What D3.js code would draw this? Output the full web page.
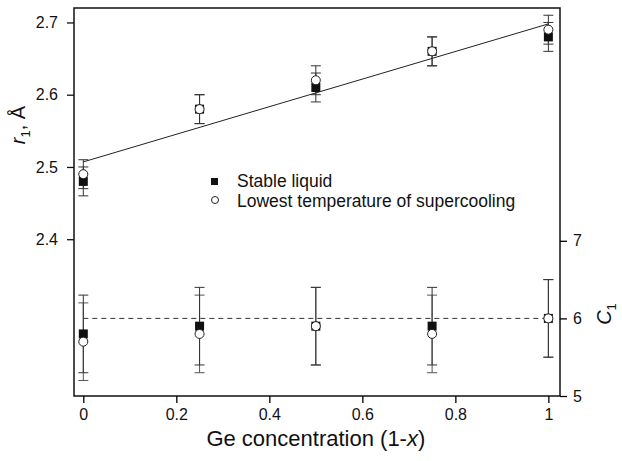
<!DOCTYPE html>
<html>
<head>
<meta charset="utf-8">
<script src="https://cdn.jsdelivr.net/npm/d3@7"></script>
<style>
body { margin: 0; background: #fff; }
svg text { font-family: "Liberation Sans", Arial, sans-serif; fill: #111; }
</style>
</head>
<body>
<div class="cont"></div>
<script>
var w = 622,
h = 461;

// data
var conc = [0, 0.25, 0.5, 0.75, 1];
var r1Stable = [2.48, 2.58, 2.61, 2.66, 2.68];
var r1Low = [2.49, 2.58, 2.62, 2.66, 2.69];
var r1Err = [0.02, 0.02, 0.02, 0.02, 0.02];
var c1Stable = [5.8, 5.9, 5.9, 5.9, 6.0];
var c1Low = [5.7, 5.8, 5.9, 5.8, 6.0];
var c1Err = [0.5, 0.5, 0.5, 0.5, 0.5];
var fitLine = [[0, 2.507], [1, 2.698]];
var c1Mean = 6.0;
var xTicks = [0, 0.2, 0.4, 0.6, 0.8, 1];
var yTicks = [2.4, 2.5, 2.6, 2.7];
var y2Ticks = [5, 6, 7];
var legendNames = ["Stable liquid", "Lowest temperature of supercooling"];

var m = {left: 74, right: 560, top: 8, bottom: 396};

var x = d3.scaleLinear().domain([-0.02, 1.025]).range([m.left, m.right]);
var y = d3.scaleLinear().domain([2.183, 2.72]).range([m.bottom, m.top]);
var y2 = d3.scaleLinear().domain([5, 10]).range([m.bottom, m.top]);

var svg = d3.select(".cont").append("svg").
attr("width", w).
attr("height", h);

// frame
svg.append("rect").
attr("x", m.left).
attr("y", m.top).
attr("width", m.right - m.left).
attr("height", m.bottom - m.top).
attr("fill", "none").
attr("stroke", "#111").
attr("stroke-width", 1.5);

// bottom axis
var xAxis = svg.append("g").attr("transform", "translate(0," + m.bottom + ")");
xAxis.call(d3.axisBottom(x).tickValues(d3.range(0, 1.01, 0.1)).tickSize(4).tickFormat(""));
xAxis.call(d3.axisBottom(x).tickValues(xTicks).tickSize(7).tickPadding(6).tickFormat(d3.format("")));

// left axis
var yAxis = svg.append("g").attr("transform", "translate(" + m.left + ",0)");
yAxis.call(d3.axisLeft(y).tickValues(d3.range(2.2, 2.71, 0.05)).tickSize(4).tickFormat(""));
yAxis.call(d3.axisLeft(y).tickValues(yTicks).tickSize(7).tickPadding(9).tickFormat(d3.format(".1f")));
yAxis.selectAll(".tick line").attr("stroke", function (d) {return d < 2.39 ? "#aaa" : "#111";});

// right axis
var y2Axis = svg.append("g").attr("transform", "translate(" + m.right + ",0)");
y2Axis.call(d3.axisRight(y2).tickValues([5, 5.5, 6, 6.5, 7]).tickSize(4).tickFormat(""));
y2Axis.call(d3.axisRight(y2).tickValues(y2Ticks).tickSize(7).tickPadding(6).tickFormat(d3.format("")));

svg.selectAll(".domain").remove();
svg.selectAll(".tick line").attr("stroke-width", 1.3);
svg.selectAll(".tick text").style("font-size", "16px");

// fitted line and mean line
var line = d3.line().x(function (d) {return x(d[0]);}).y(function (d) {return y(d[1]);});
svg.append("path").
attr("d", line(fitLine)).
attr("fill", "none").
attr("stroke", "#222").
attr("stroke-width", 1);

svg.append("line").
attr("x1", x(0)).
attr("x2", x(1)).
attr("y1", y2(c1Mean)).
attr("y2", y2(c1Mean)).
attr("stroke", "#333").
attr("stroke-width", 1).
attr("stroke-dasharray", "5,4");

function errBars(vals, errs, sc, col) {
  var g = svg.append("g").attr("stroke", col).attr("stroke-width", 1);
  conc.forEach(function (c, i) {
    var cx = x(c),
    hi = sc(vals[i] + errs[i]),
    lo = sc(vals[i] - errs[i]);
    g.append("line").attr("x1", cx).attr("x2", cx).attr("y1", hi).attr("y2", lo);
    g.append("line").attr("x1", cx - 5).attr("x2", cx + 5).attr("y1", hi).attr("y2", hi);
    g.append("line").attr("x1", cx - 5).attr("x2", cx + 5).attr("y1", lo).attr("y2", lo);
  });
}

function squares(vals, sc) {
  svg.append("g").selectAll("rect").
  data(vals).
  enter().append("rect").
  attr("x", function (d, i) {return x(conc[i]) - 4.5;}).
  attr("y", function (d) {return sc(d) - 4.5;}).
  attr("width", 9).
  attr("height", 9).
  attr("fill", "#111");
}

function circles(vals, sc) {
  svg.append("g").selectAll("circle").
  data(vals).
  enter().append("circle").
  attr("cx", function (d, i) {return x(conc[i]);}).
  attr("cy", function (d) {return sc(d);}).
  attr("r", 4.5).
  attr("fill", "#fff").
  attr("stroke", "#222").
  attr("stroke-width", 1);
}

errBars(r1Low, r1Err, y, "#333");
errBars(r1Stable, r1Err, y, "#333");
errBars(c1Low, c1Err, y2, "#555");
errBars(c1Stable, c1Err, y2, "#333");
squares(r1Stable, y);
squares(c1Stable, y2);
circles(r1Low, y);
circles(c1Low, y2);

// legend
var lg = svg.append("g");
lg.append("rect").attr("x", 211).attr("y", 178).attr("width", 7).attr("height", 7).attr("fill", "#111");
lg.append("circle").attr("cx", 215).attr("cy", 200).attr("r", 3.5).attr("fill", "#fff").attr("stroke", "#222");
lg.selectAll("text").
data(legendNames).
enter().append("text").
attr("x", 237).
attr("y", function (d, i) {return 187 + i * 20;}).
style("font-size", "17.5px").
text(function (d) {return d;});

// axis titles
var xt = svg.append("text").
attr("x", x(0.5)).
attr("y", 446).
attr("text-anchor", "middle").
style("font-size", "22px");
xt.append("tspan").text("Ge concentration (1-");
xt.append("tspan").style("font-style", "italic").text("x");
xt.append("tspan").text(")");

var yt = svg.append("text").
attr("transform", "translate(25,125) rotate(-90)").
attr("text-anchor", "middle").
style("font-size", "20px");
yt.append("tspan").style("font-style", "italic").text("r");
yt.append("tspan").attr("dy", 5).style("font-size", "13px").text("1");
yt.append("tspan").attr("dy", -5).text(", Å");

var ct = svg.append("text").
attr("transform", "translate(611,314) rotate(-90)").
attr("text-anchor", "middle").
style("font-size", "20px");
ct.append("tspan").style("font-style", "italic").text("C");
ct.append("tspan").attr("dy", 5).style("font-size", "13px").text("1");
</script>
</body>
</html>
